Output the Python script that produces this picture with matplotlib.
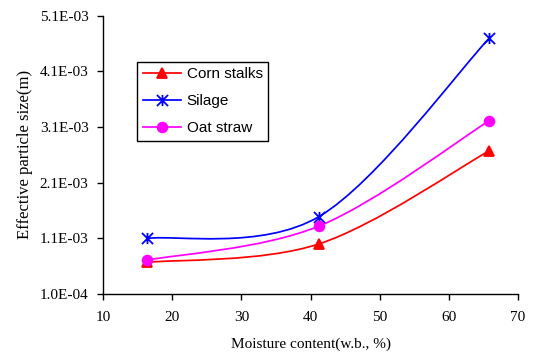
import numpy as np
import matplotlib
matplotlib.use("Agg")
import matplotlib.pyplot as plt
from matplotlib.path import Path
from matplotlib.patches import PathPatch
from matplotlib.ticker import FixedLocator, FuncFormatter

moisture = [16.4, 41.2, 65.8]
corn_stalks = [0.67e-3, 1.00e-3, 2.67e-3]
silage = [1.10e-3, 1.49e-3, 4.69e-3]
oat_straw = [0.71e-3, 1.32e-3, 3.21e-3]
y_ticks = [1.0e-4, 1.1e-3, 2.1e-3, 3.1e-3, 4.1e-3, 5.1e-3]
x_ticks = [10, 20, 30, 40, 50, 60, 70]

# asterisk marker like Excel's star: x plus a vertical bar
star = Path([(-1, -1), (1, 1), (-1, 1), (1, -1), (0, -1), (0, 1)],
            [Path.MOVETO, Path.LINETO] * 3)


def smooth_path(x, y):
    # Excel-style smoothed line: cubic Bezier with 1/6 tangents
    p = np.column_stack([x, y])
    n = len(p)
    verts = [p[0]]
    codes = [Path.MOVETO]
    for i in range(n - 1):
        prev = p[max(i - 1, 0)]
        nxt = p[min(i + 2, n - 1)]
        c1 = p[i] + (p[i + 1] - prev) / 6
        c2 = p[i + 1] - (nxt - p[i]) / 6
        verts += [c1, c2, p[i + 1]]
        codes += [Path.CURVE4] * 3
    return Path(verts, codes)


fig = plt.figure(figsize=(5.43, 3.56), dpi=100)
ax = fig.add_axes([0.19, 0.174, 0.764, 0.782])

series = [
    ("Corn stalks", corn_stalks, "#FF0000", "^", 7),
    ("Silage", silage, "#0000FF", star, 8),
    ("Oat straw", oat_straw, "#FF00FF", "o", 7),
]
for name, vals, col, mk, ms in series:
    ax.add_patch(PathPatch(smooth_path(moisture, vals), fill=False,
                           edgecolor=col, lw=1.25))
    ax.plot(moisture, vals, linestyle="none", color=col, marker=mk,
            markersize=ms, markeredgewidth=1.3, markerfacecolor=col,
            markeredgecolor=col, clip_on=False)

# legend proxies
handles = [plt.Line2D([], [], color=c, lw=1.25, marker=m, markersize=s,
                      markeredgewidth=1.3, markerfacecolor=c, markeredgecolor=c)
           for _, _, c, m, s in series]
leg = ax.legend(handles, [s[0] for s in series], loc="upper left",
                bbox_to_anchor=(0.082, 0.834), borderaxespad=0,
                frameon=True, fancybox=False,
                edgecolor="black", framealpha=1,
                prop={"family": "Liberation Sans", "size": 11},
                handlelength=2.55, borderpad=0.35, labelspacing=0.85,
                handletextpad=0.33)
leg.get_frame().set_linewidth(1.0)

ax.set_xlim(10, 70)
ax.set_ylim(1.0e-4, 5.1e-3)
ax.xaxis.set_major_locator(FixedLocator(x_ticks))
ax.yaxis.set_major_locator(FixedLocator(y_ticks))
ax.yaxis.set_major_formatter(FuncFormatter(lambda v, p: "{:.1E}".format(v)))
ax.spines["top"].set_visible(False)
ax.spines["right"].set_visible(False)
for s in ("left", "bottom"):
    ax.spines[s].set_linewidth(1.0)
ax.tick_params(direction="out", length=4, width=1.0)
ax.tick_params(axis="x", pad=8)
ax.tick_params(axis="y", pad=6.5)
for lbl in ax.get_xticklabels() + ax.get_yticklabels():
    lbl.set_fontfamily("Liberation Serif")
    lbl.set_fontsize(11)

ax.set_xlabel("Moisture content(w.b., %)", family="Liberation Serif",
              fontsize=11, labelpad=10)
ax.set_ylabel("Effective particle size(m)", family="Liberation Serif",
              fontsize=12, labelpad=5)

fig.savefig("out.png", dpi=100)
